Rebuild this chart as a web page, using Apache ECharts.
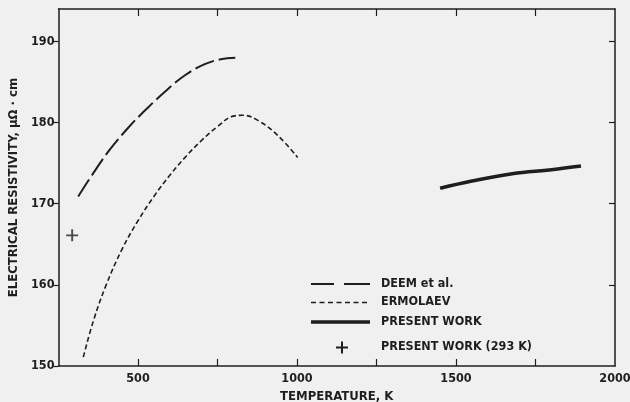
<!DOCTYPE html>
<html><head><meta charset="utf-8">
<script src="https://cdn.jsdelivr.net/npm/echarts@6/dist/echarts.min.js"></script>
<style>html,body{margin:0;padding:0;background:#f0f0f0}#c{width:630px;height:402px}</style>
</head><body><div id="c"></div>
<script>
var FONT = "'DejaVu Sans Condensed','Liberation Sans',sans-serif";
var INK = '#1e1e1e';

// DEEM et al. (temperature K, resistivity µΩ·cm)
var deemT = [312, 360, 410, 470, 530, 590, 650, 710, 760, 806];
var deemR = [170.9, 173.8, 176.6, 179.4, 181.8, 184.0, 185.9, 187.2, 187.8, 188.0];

// ERMOLAEV
var ermT = [328, 360, 400, 450, 500, 550, 600, 650, 700, 750, 800, 830, 880, 940, 1002];
var ermR = [151.1, 155.6, 160.0, 164.4, 167.9, 170.9, 173.5, 175.8, 177.8, 179.5, 180.8, 180.9, 180.2, 178.4, 175.7];

// PRESENT WORK
var presT = [1450, 1550, 1677, 1800, 1893];
var presR = [171.9, 172.8, 173.7, 174.2, 174.65];

// PRESENT WORK (293 K)
var ptT = [293];
var ptR = [166.1];

var xTicks = [500, 1000, 1500, 2000];
var xMinorTicks = [500, 750, 1000, 1250, 1500, 1750];
var yTicks = [150, 160, 170, 180, 190];

function zip(a, b) { return a.map(function (v, i) { return [v, b[i]]; }); }

var chart = echarts.init(document.getElementById('c'));
var axisLine = { show: true, lineStyle: { color: INK, width: 1.5 } };
var lbl = { color: INK, fontFamily: FONT, fontWeight: 'bold', fontSize: 12.5, formatter: function (v) { return String(v); } };
var PLUS = 'path://M4.2,0H5.8V4.2H10V5.8H5.8V10H4.2V5.8H0V4.2H4.2Z';
var tickStyle = { color: INK, width: 1.2 };

chart.setOption({
  backgroundColor: '#f0f0f0',
  animation: false,
  grid: { left: 58.5, right: 15, top: 9, bottom: 36, outerBoundsMode: 'none', containLabel: false },
  xAxis: [{
    type: 'value', min: 250, max: 2000, interval: 250, position: 'bottom',
    axisLine: axisLine,
    axisTick: { show: true, inside: true, length: 7, customValues: xMinorTicks, lineStyle: tickStyle },
    splitLine: { show: false },
    axisLabel: Object.assign({ margin: 6, customValues: xTicks }, lbl),
    name: 'TEMPERATURE, K', nameLocation: 'middle', nameGap: 24,
    nameTextStyle: { color: INK, fontFamily: FONT, fontWeight: 'bold', fontSize: 13 }
  }, {
    type: 'value', min: 250, max: 2000, interval: 250, position: 'top',
    axisLine: axisLine,
    axisTick: { show: true, inside: true, length: 7, customValues: xMinorTicks, lineStyle: tickStyle },
    splitLine: { show: false }, axisLabel: { show: false }
  }],
  yAxis: [{
    type: 'value', min: 150, max: 194, interval: 10, position: 'left',
    axisLine: axisLine,
    axisTick: { show: true, inside: false, length: 5, customValues: yTicks, lineStyle: tickStyle },
    splitLine: { show: false },
    axisLabel: Object.assign({ margin: 4, customValues: yTicks }, lbl),
    name: 'ELECTRICAL RESISTIVITY, μΩ · cm', nameLocation: 'middle', nameGap: 38, nameRotate: 90,
    nameTextStyle: { color: INK, fontFamily: FONT, fontWeight: 'bold', fontSize: 13 }
  }, {
    type: 'value', min: 150, max: 194, interval: 10, position: 'right',
    axisLine: axisLine,
    axisTick: { show: true, inside: true, length: 6, customValues: [160, 170, 180, 190], lineStyle: tickStyle },
    splitLine: { show: false }, axisLabel: { show: false }
  }],
  series: [{
    type: 'line', data: zip(deemT, deemR), smooth: 0.4, symbol: 'none',
    lineStyle: { color: INK, width: 2, type: [20, 5] }
  }, {
    type: 'line', data: zip(ermT, ermR), smooth: 0.4, symbol: 'none',
    lineStyle: { color: INK, width: 1.6, type: [5, 3] }
  }, {
    type: 'line', data: zip(presT, presR), smooth: 0.4, symbol: 'none',
    lineStyle: { color: INK, width: 3.5 }
  }, {
    type: 'scatter', data: zip(ptT, ptR), symbol: PLUS, symbolSize: 12,
    itemStyle: { color: INK }
  }],
  graphic: [
    { type: 'line', shape: { x1: 311, y1: 284, x2: 334, y2: 284 }, style: { stroke: INK, lineWidth: 2 } },
    { type: 'line', shape: { x1: 344, y1: 284, x2: 370, y2: 284 }, style: { stroke: INK, lineWidth: 2 } },
    { type: 'line', shape: { x1: 311, y1: 302.5, x2: 370, y2: 302.5 }, style: { stroke: INK, lineWidth: 1.6, lineDash: [5, 3.5] } },
    { type: 'line', shape: { x1: 311, y1: 322, x2: 370, y2: 322 }, style: { stroke: INK, lineWidth: 3.5 } },
    { type: 'rect', shape: { x: 336, y: 346.5, width: 12, height: 2 }, style: { fill: INK } },
    { type: 'rect', shape: { x: 341, y: 341.5, width: 2, height: 12 }, style: { fill: INK } },
    { type: 'text', x: 381, y: 277, style: { text: 'DEEM et al.', fill: INK, font: 'bold 12.5px ' + FONT } },
    { type: 'text', x: 381, y: 295.5, style: { text: 'ERMOLAEV', fill: INK, font: 'bold 12.5px ' + FONT } },
    { type: 'text', x: 381, y: 315, style: { text: 'PRESENT WORK', fill: INK, font: 'bold 12.5px ' + FONT } },
    { type: 'text', x: 381, y: 340, style: { text: 'PRESENT WORK (293 K)', fill: INK, font: 'bold 12.5px ' + FONT } }
  ]
});
</script>
</body></html>
